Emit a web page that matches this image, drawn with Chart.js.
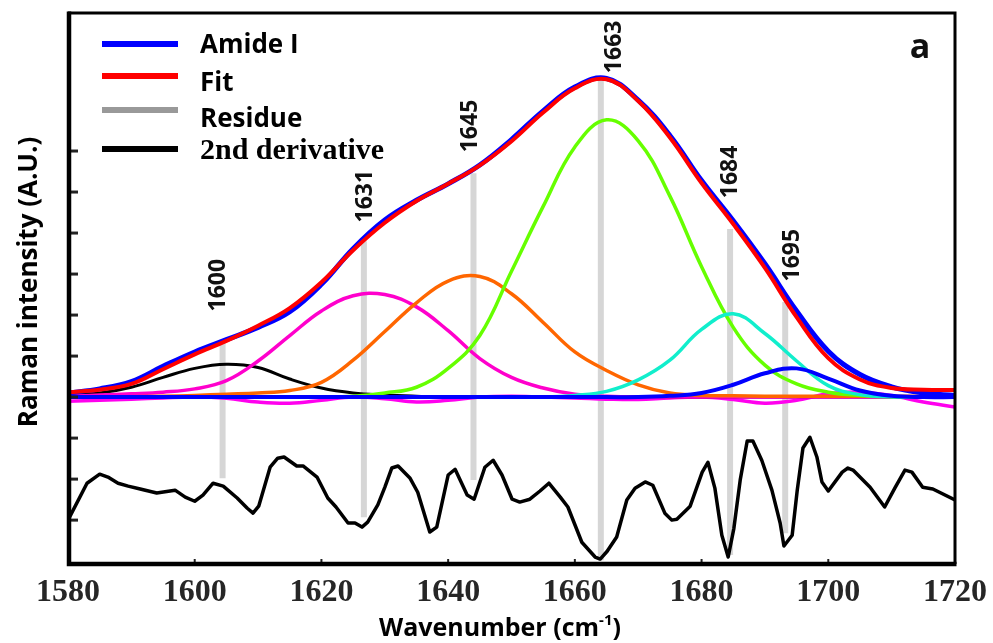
<!DOCTYPE html>
<html>
<head>
<meta charset="utf-8">
<title>Amide I band fit</title>
<script src="https://cdn.jsdelivr.net/npm/chart.js@4.4.1/dist/chart.umd.min.js"></script>
<style>
  html, body { margin: 0; padding: 0; background: #fff; }
  canvas { display: block; }
</style>
</head>
<body>
<canvas id="ramanChart" width="993" height="643"></canvas>
<script>
// shared wavenumber grid for the smooth curves (cm-1)
const wavenumbers = [1580, 1585, 1590, 1595, 1600, 1605, 1610, 1615, 1620, 1625, 1630, 1635, 1640, 1645, 1650,
  1655, 1660, 1665, 1670, 1675, 1680, 1685, 1690, 1695, 1700, 1705, 1710, 1715, 1720];

const amideI = [0.10, 0.20, 0.38, 0.75, 1.10, 1.40, 1.70, 2.08, 2.75, 3.62, 4.32, 4.80, 5.20, 5.66, 6.28,
  6.98, 7.56, 7.77, 7.24, 6.38, 5.28, 4.30, 3.25, 2.10, 1.12, 0.55, 0.25, 0.10, 0.04];
const fit = [0.12, 0.18, 0.32, 0.68, 1.04, 1.37, 1.74, 2.17, 2.80, 3.58, 4.25, 4.78, 5.20, 5.65, 6.24,
  6.94, 7.53, 7.75, 7.22, 6.33, 5.22, 4.22, 3.15, 1.95, 0.95, 0.43, 0.22, 0.18, 0.17];
const residue = [-0.10, -0.08, -0.05, -0.02, 0.00, -0.03, -0.12, -0.15, -0.08, 0.00, -0.04, -0.12, -0.08, 0.00, 0.02,
  0.00, -0.02, -0.05, -0.06, -0.02, 0.00, -0.06, -0.15, -0.08, 0.08, 0.12, 0.04, -0.12, -0.24];

// fitted component bands
const band1600 = [0.05, 0.10, 0.24, 0.48, 0.70, 0.80, 0.72, 0.44, 0.22, 0.10, 0.05, 0.02, 0, 0, 0,
  0, 0, 0, 0, 0, 0, 0, 0, 0, 0, 0, 0, 0, 0];
const band1631 = [0.02, 0.05, 0.08, 0.12, 0.20, 0.40, 0.88, 1.50, 2.10, 2.47, 2.50, 2.20, 1.62, 0.94, 0.48,
  0.22, 0.07, 0.02, 0, 0, 0, 0, 0, 0, 0, 0, 0, 0, 0];
const band1645 = [0, 0, 0.01, 0.02, 0.04, 0.07, 0.10, 0.16, 0.36, 0.90, 1.60, 2.30, 2.83, 2.94, 2.52,
  1.82, 1.10, 0.65, 0.30, 0.10, 0.04, 0.03, 0.02, 0.02, 0.02, 0.02, 0.02, 0.02, 0.02];
const band1663 = [0, 0, 0, 0, 0, 0, 0, 0, 0, 0.02, 0.10, 0.24, 0.70, 1.50, 3.07,
  4.65, 6.10, 6.76, 6.25, 4.90, 3.18, 1.70, 0.78, 0.32, 0.12, 0.04, 0.01, 0, 0];
const band1684 = [0, 0, 0, 0, 0, 0, 0, 0, 0, 0, 0, 0, 0, 0, 0,
  0, 0.04, 0.14, 0.42, 0.90, 1.65, 2.03, 1.55, 0.88, 0.28, 0.06, 0.01, 0, 0];
const band1695 = [0, 0, 0, 0, 0, 0, 0, 0, 0, 0, 0, 0, 0, 0, 0,
  0, 0, 0, 0, 0.03, 0.10, 0.30, 0.58, 0.70, 0.45, 0.16, 0.03, 0, 0];

// second derivative trace (offset below the spectrum)
const derivWavenumbers = [1580, 1583.0, 1585.0, 1586.3, 1587.9, 1589.5, 1591.4, 1594.0, 1596.9, 1598.5, 1600.0, 1601.3,
  1602.9, 1604.5, 1606.7, 1608.3, 1609.2, 1610.1, 1611.9, 1613.1, 1614.1, 1616.1, 1617.1, 1619.3, 1621.0, 1622.3,
  1624.2, 1625.3, 1626.4, 1627.3, 1628.9, 1630.0, 1631.1, 1632.1, 1634.0, 1635.2, 1637.1, 1638.2, 1640.0, 1641.1,
  1643.0, 1644.1, 1645.8, 1647.1, 1648.5, 1650.1, 1651.3, 1652.9, 1654.5, 1655.9, 1657.7, 1658.9, 1661.1, 1663.2,
  1664.0, 1665.1, 1666.6, 1668.2, 1669.5, 1671.1, 1672.3, 1674.2, 1675.3, 1676.1, 1678.2, 1680.1, 1681.0, 1682.1,
  1683.2, 1684.2, 1685.1, 1686.1, 1687.2, 1688.1, 1689.5, 1691.1, 1692.4, 1693.0, 1694.3, 1695.1, 1696.0, 1697.1,
  1698.2, 1699.0, 1700.0, 1702.2, 1703.1, 1703.9, 1706.6, 1708.9, 1710.5, 1712.1, 1713.2, 1714.9, 1716.5, 1720];
const derivValues = [-3.00, -2.10, -1.88, -1.95, -2.10, -2.17, -2.24, -2.34, -2.27, -2.44, -2.54, -2.39,
  -2.10, -2.17, -2.46, -2.71, -2.83, -2.66, -1.71, -1.49, -1.46, -1.68, -1.68, -1.95, -2.46, -2.68,
  -3.07, -3.07, -3.17, -3.05, -2.63, -2.20, -1.73, -1.68, -1.98, -2.32, -3.29, -3.17, -1.90, -1.76,
  -2.39, -2.49, -1.71, -1.54, -1.90, -2.49, -2.56, -2.49, -2.29, -2.10, -2.44, -2.68, -3.54, -3.90,
  -3.95, -3.76, -3.41, -2.51, -2.22, -2.07, -2.15, -2.83, -3.00, -2.98, -2.66, -1.83, -1.59, -2.22,
  -3.37, -3.90, -3.20, -2.02, -1.07, -1.07, -1.54, -2.27, -3.07, -3.63, -3.37, -2.27, -1.24, -0.98,
  -1.46, -2.07, -2.29, -1.83, -1.73, -1.78, -2.20, -2.68, -2.22, -1.78, -1.83, -2.20, -2.24, -2.51];

// grey peak markers and their captions
const markerPositions = [1604.4, 1626.7, 1644.0, 1664.1, 1684.5, 1693.2];
const markerTops = [1.35, 3.80, 5.46, 7.73, 4.10, 2.32];
const markerBottoms = [-1.98, -2.93, -2.02, -3.98, -3.85, -3.32];
const peakNames = ['1600', '1631', '1645', '1663', '1684', '1695'];
const peakLabelX = [1603.7, 1627.0, 1643.6, 1666.2, 1684.6, 1694.3];
const peakLabelY = [2.73, 4.90, 6.61, 8.54, 5.49, 3.46];

const xTicks = [1580, 1600, 1620, 1640, 1660, 1680, 1700, 1720];
const yTicks = [-3, -2, -1, 0, 1, 2, 3, 4, 5, 6];

const legendItems = [
  { text: 'Amide I', color: '#0000ff', font: 'bold 26px "Open Sans"', lineY: 44, textY: 53 },
  { text: 'Fit', color: '#ff0000', font: 'bold 26px "Open Sans"', lineY: 76, textY: 91 },
  { text: 'Residue', color: '#999999', font: 'bold 26px "Open Sans"', lineY: 110, textY: 127 },
  { text: '2nd derivative', color: '#000000', font: 'bold 30px "Liberation Serif"', lineY: 149, textY: 159 }
];

const toPoints = (xs, ys) => xs.map((x, i) => ({ x, y: ys[i] }));

function curve(label, values, color, width, order) {
  return {
    label,
    data: toPoints(wavenumbers, values),
    borderColor: color,
    borderWidth: width,
    pointRadius: 0,
    tension: 0.4,
    fill: false,
    order
  };
}

const datasets = [
  {
    label: '2nd derivative',
    data: toPoints(derivWavenumbers, derivValues),
    borderColor: '#000',
    borderWidth: 3.5,
    pointRadius: 0,
    tension: 0,
    borderJoinStyle: 'round',
    order: 0
  },
  curve('Fit', fit, '#ff0000', 4, 1),
  curve('Amide I', amideI, '#0000ff', 5, 2),
  curve('1695', band1695, '#0000ff', 4, 3),
  curve('1684', band1684, '#11eecc', 3.5, 4),
  curve('1663', band1663, '#66ff00', 3.5, 5),
  curve('1645', band1645, '#ff6600', 3.5, 6),
  curve('1631', band1631, '#ff00cc', 3.5, 7),
  curve('1600', band1600, '#000000', 3, 8),
  curve('Residue', residue, '#ff00ee', 3.5, 9)
];

markerPositions.forEach((p, i) => {
  datasets.push({
    label: 'marker ' + peakNames[i],
    data: [{ x: p, y: markerBottoms[i] }, { x: p, y: markerTops[i] }],
    borderColor: '#d6d6d6',
    borderWidth: 6,
    borderCapStyle: 'butt',
    pointRadius: 0,
    order: 10
  });
});

// frame, inward ticks, captions, legend and axis titles
const decorations = {
  id: 'decorations',
  afterDraw(chart) {
    const { ctx, chartArea: area, scales: { x, y } } = chart;
    ctx.save();

    // inward tick marks
    ctx.strokeStyle = '#222';
    ctx.lineWidth = 3;
    yTicks.forEach(v => {
      const py = y.getPixelForValue(v);
      ctx.beginPath();
      ctx.moveTo(area.left, py);
      ctx.lineTo(area.left + 10, py);
      ctx.stroke();
    });
    ctx.lineWidth = 2;
    xTicks.forEach(v => {
      const px = x.getPixelForValue(v);
      ctx.beginPath();
      ctx.moveTo(px, area.bottom);
      ctx.lineTo(px, area.bottom - 5);
      ctx.stroke();
    });

    // plot frame
    ctx.strokeStyle = '#000';
    ctx.lineWidth = 3;
    ctx.beginPath();
    ctx.moveTo(area.left, area.top + 1);
    ctx.lineTo(area.right, area.top + 1);
    ctx.lineTo(area.right, area.bottom);
    ctx.stroke();
    ctx.lineWidth = 4.5;
    ctx.beginPath();
    ctx.moveTo(area.left + 1, area.top - 0.5);
    ctx.lineTo(area.left + 1, area.bottom);
    ctx.lineTo(area.right + 1.5, area.bottom);
    ctx.stroke();

    // peak captions, rotated
    ctx.fillStyle = '#111';
    ctx.font = 'bold 23px "Open Sans"';
    ctx.textAlign = 'center';
    ctx.textBaseline = 'middle';
    peakNames.forEach((name, i) => {
      ctx.save();
      ctx.translate(x.getPixelForValue(peakLabelX[i]), y.getPixelForValue(peakLabelY[i]));
      ctx.rotate(-Math.PI / 2);
      ctx.fillText(name, 0, 0);
      ctx.restore();
    });

    // panel letter
    ctx.font = 'bold 34px "Open Sans"';
    ctx.textBaseline = 'alphabetic';
    ctx.fillText('a', area.right - 35, area.top + 46);

    // legend
    ctx.textAlign = 'left';
    legendItems.forEach(item => {
      ctx.strokeStyle = item.color;
      ctx.lineWidth = 6;
      ctx.lineCap = 'butt';
      ctx.beginPath();
      ctx.moveTo(area.left + 34, item.lineY);
      ctx.lineTo(area.left + 110, item.lineY);
      ctx.stroke();
      ctx.fillStyle = '#000';
      ctx.font = item.font;
      ctx.fillText(item.text, area.left + 132, item.textY);
    });

    // y axis title
    ctx.fillStyle = '#000';
    ctx.font = 'bold 26px "Open Sans"';
    ctx.textAlign = 'center';
    ctx.save();
    ctx.translate(37, 282);
    ctx.rotate(-Math.PI / 2);
    ctx.fillText('Raman intensity (A.U.)', 0, 0);
    ctx.restore();

    // x axis title with superscript
    const main = 'Wavenumber (cm';
    const sup = '-1';
    const close = ')';
    ctx.textAlign = 'left';
    ctx.font = 'bold 25px "Open Sans"';
    const wMain = ctx.measureText(main).width;
    const wClose = ctx.measureText(close).width;
    ctx.font = 'bold 15px "Open Sans"';
    const wSup = ctx.measureText(sup).width;
    let tx = 500 - (wMain + wSup + wClose) / 2;
    const base = 636;
    ctx.font = 'bold 25px "Open Sans"';
    ctx.fillText(main, tx, base);
    tx += wMain;
    ctx.font = 'bold 15px "Open Sans"';
    ctx.fillText(sup, tx, base - 11);
    tx += wSup;
    ctx.font = 'bold 25px "Open Sans"';
    ctx.fillText(close, tx, base);

    ctx.restore();
  }
};

new Chart(document.getElementById('ramanChart'), {
  type: 'line',
  data: { datasets },
  options: {
    responsive: false,
    animation: false,
    devicePixelRatio: 1,
    layout: { padding: { top: 12, right: 38, left: 0, bottom: 0 } },
    plugins: { legend: { display: false }, tooltip: { enabled: false } },
    scales: {
      x: {
        type: 'linear',
        min: 1580,
        max: 1720,
        border: { display: false },
        grid: { display: false, drawTicks: false },
        ticks: {
          stepSize: 20,
          padding: 10,
          autoSkip: false,
          maxRotation: 0,
          color: '#262626',
          font: { family: 'Liberation Serif', weight: 'bold', size: 32 },
          callback: v => String(v)
        },
        afterFit: s => {
          s.height = 79;
          s.paddingLeft = 0;
          s.paddingRight = 0;
        }
      },
      y: {
        min: -4.07,
        max: 9.39,
        border: { display: false },
        grid: { display: false, drawTicks: false },
        ticks: { display: false },
        afterFit: s => { s.width = 68; }
      }
    }
  },
  plugins: [decorations]
});
</script>
</body>
</html>
